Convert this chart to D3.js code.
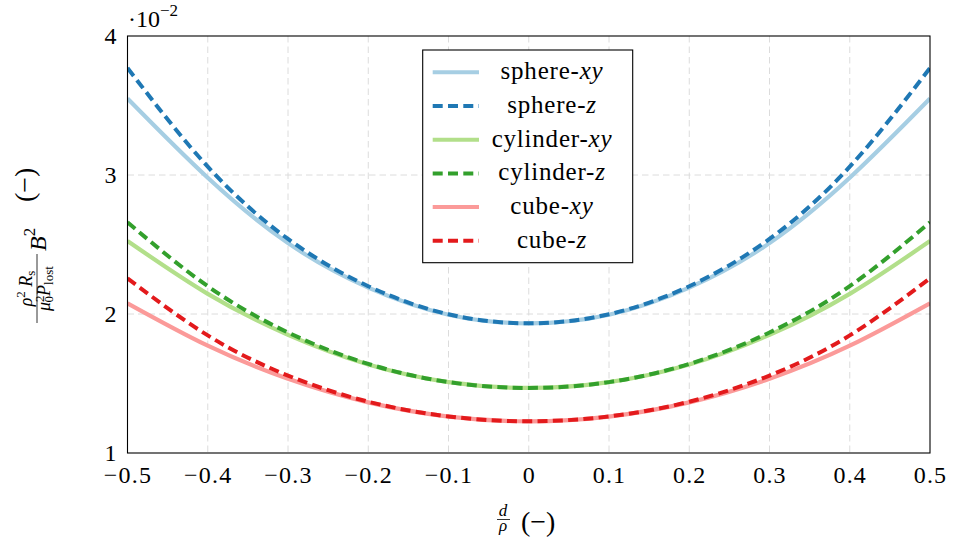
<!DOCTYPE html>
<html>
<head>
<meta charset="utf-8">
<script src="https://cdn.jsdelivr.net/npm/d3@7"></script>
<style>
  body { margin: 0; background: #fff; }
  svg { display: block; }
  text { font-family: "Liberation Serif", "DejaVu Serif", serif; fill: #000; }
</style>
</head>
<body>
<svg id="chart" width="955" height="548"></svg>
<script>
// ---- data (values in units of 10^-2) ----
const dValues = [-0.5, -0.4, -0.3, -0.2, -0.1, 0, 0.1, 0.2, 0.3, 0.4, 0.5];
const sphereXY   = [3.55, 2.98, 2.51, 2.19, 1.995, 1.933, 1.995, 2.19, 2.51, 2.98, 3.55];
const sphereZ    = [3.77, 3.06, 2.54, 2.20, 1.998, 1.933, 1.998, 2.20, 2.54, 3.06, 3.77];
const cylinderXY = [2.525, 2.145, 1.85, 1.637, 1.51, 1.468, 1.51, 1.637, 1.85, 2.145, 2.525];
const cylinderZ  = [2.66, 2.20, 1.867, 1.641, 1.51, 1.468, 1.51, 1.641, 1.867, 2.20, 2.66];
const cubeXY     = [2.077, 1.772, 1.534, 1.364, 1.262, 1.228, 1.262, 1.364, 1.534, 1.772, 2.077];
const cubeZ      = [2.257, 1.846, 1.557, 1.369, 1.263, 1.228, 1.263, 1.369, 1.557, 1.846, 2.257];

const seriesNames  = ["sphere", "sphere", "cylinder", "cylinder", "cube", "cube"];
const seriesSuffix = ["xy", "z", "xy", "z", "xy", "z"];
const seriesValues = [sphereXY, sphereZ, cylinderXY, cylinderZ, cubeXY, cubeZ];
const seriesColors = ["#a6cee3", "#1f78b4", "#b2df8a", "#33a02c", "#fb9a99", "#e31a1c"];
const seriesDashed = [false, true, false, true, false, true];

const xTicks = [-0.5, -0.4, -0.3, -0.2, -0.1, 0, 0.1, 0.2, 0.3, 0.4, 0.5];
const yTicks = [1, 2, 3, 4];

// ---- layout ----
const L = 127.5, R = 930, T = 36, B = 453;
const svg = d3.select("#chart");

const x = d3.scaleLinear().domain([-0.5, 0.5]).range([L, R]);
const y = d3.scaleLinear().domain([1, 4]).range([B, T]);

// grid
const grid = svg.append("g");
grid.selectAll("line.v").data(xTicks.slice(1, -1)).join("line")
  .attr("x1", d => x(d)).attr("x2", d => x(d)).attr("y1", T).attr("y2", B)
  .attr("stroke", "#dcdcdc").attr("stroke-width", 1).attr("stroke-dasharray", "6.5,4");
grid.selectAll("line.h").data(yTicks.slice(1, -1)).join("line")
  .attr("x1", L).attr("x2", R).attr("y1", d => y(d)).attr("y2", d => y(d))
  .attr("stroke", "#dcdcdc").attr("stroke-width", 1).attr("stroke-dasharray", "6.5,4");

// curves
const line = d3.line().x((d, i) => x(dValues[i])).y(d => y(d)).curve(d3.curveNatural);
const clip = svg.append("clipPath").attr("id", "clip").append("rect")
  .attr("x", L).attr("y", T).attr("width", R - L).attr("height", B - T);
const curves = svg.append("g").attr("clip-path", "url(#clip)");
seriesValues.forEach((vals, i) => {
  curves.append("path").datum(vals)
    .attr("d", line)
    .attr("fill", "none")
    .attr("stroke", seriesColors[i])
    .attr("stroke-width", seriesDashed[i] ? 4 : 4.2)
    .attr("stroke-dasharray", seriesDashed[i] ? "10,5.3" : null);
});

// frame
svg.append("rect").attr("x", L).attr("y", T).attr("width", R - L).attr("height", B - T)
  .attr("fill", "none").attr("stroke", "#000").attr("stroke-width", 1.1);

// axes
const fmtX = d => d === 0 ? "0" : d3.format(".1f")(d);
const xAxis = svg.append("g").attr("transform", `translate(0,${B})`)
  .call(d3.axisBottom(x).tickValues(xTicks).tickFormat(fmtX).tickSize(0).tickPadding(13));
const yAxis = svg.append("g").attr("transform", `translate(${L},0)`)
  .call(d3.axisLeft(y).tickValues(yTicks).tickFormat(d3.format("d")).tickSize(0).tickPadding(11));
[xAxis, yAxis].forEach(a => {
  a.attr("font-family", null);
  a.select(".domain").remove();
  a.selectAll("text").attr("font-size", 24).attr("fill", "#000");
});
xAxis.selectAll("text").attr("letter-spacing", 1.2);

// scale multiplier
const mult = svg.append("text").attr("x", 128).attr("y", 27).attr("font-size", 24);
mult.append("tspan").text("·10");
mult.append("tspan").attr("font-size", 17).attr("dy", -11).text("−2");

// legend
const lg = svg.append("g");
lg.append("rect").attr("x", 422.7).attr("y", 50).attr("width", 210).attr("height", 212.7)
  .attr("fill", "#fff").attr("stroke", "#000").attr("stroke-width", 1.1);
seriesValues.forEach((vals, i) => {
  const cy = 72.3 + i * 33.7;
  lg.append("line").attr("x1", 432.7).attr("x2", 479).attr("y1", cy).attr("y2", cy)
    .attr("stroke", seriesColors[i]).attr("stroke-width", 4)
    .attr("stroke-dasharray", seriesDashed[i] ? "10,5.3" : null);
  const t = lg.append("text").attr("x", 552).attr("y", cy + 7).attr("text-anchor", "middle")
    .attr("font-size", 25).attr("letter-spacing", 0.8);
  t.append("tspan").text(seriesNames[i] + "-");
  t.append("tspan").attr("font-style", "italic").text(seriesSuffix[i]);
});

// x label
const xl = svg.append("g");
xl.append("text").attr("x", 503).attr("y", 516).attr("text-anchor", "middle")
  .attr("font-size", 17).attr("font-style", "italic").text("d");
xl.append("line").attr("x1", 497).attr("x2", 510).attr("y1", 519.5).attr("y2", 519.5)
  .attr("stroke", "#000").attr("stroke-width", 0.8);
xl.append("text").attr("x", 503).attr("y", 531).attr("text-anchor", "middle")
  .attr("font-size", 17).attr("font-style", "italic").text("ρ");
xl.append("text").attr("x", 521).attr("y", 531).attr("font-size", 28).text("(−)");

// y label (rotated)
const yl = svg.append("g").attr("transform", "translate(36,245) rotate(-90)");
const num = yl.append("text").attr("x", -43.5).attr("y", -4).attr("text-anchor", "middle").attr("font-size", 18);
num.append("tspan").attr("font-style", "italic").text("ρ");
num.append("tspan").attr("font-size", 13).attr("dy", -7).text("2");
num.append("tspan").attr("font-style", "italic").attr("dy", 7).text(" R");
num.append("tspan").attr("font-size", 13).attr("dy", 3).text("s");
yl.append("line").attr("x1", -78).attr("x2", -9).attr("y1", 1).attr("y2", 1)
  .attr("stroke", "#000").attr("stroke-width", 0.8);
const den = yl.append("text").attr("x", -43.5).attr("y", 14).attr("text-anchor", "middle").attr("font-size", 18);
den.append("tspan").attr("font-style", "italic").text("μ");
den.append("tspan").attr("font-size", 13).attr("dy", -6).text("2");
den.append("tspan").attr("font-size", 13).attr("dx", -7).attr("dy", 9).text("0");
den.append("tspan").attr("font-style", "italic").attr("dy", -3).text("P");
den.append("tspan").attr("font-size", 13).attr("dy", 3).text("lost");
const bt = yl.append("text").attr("x", -6).attr("y", 10).attr("font-size", 24);
bt.append("tspan").attr("font-style", "italic").text("B");
bt.append("tspan").attr("font-size", 17).attr("dy", -11).text("2");
yl.append("text").attr("x", 43).attr("y", -2).attr("font-size", 28).text("(−)");
</script>
</body>
</html>
